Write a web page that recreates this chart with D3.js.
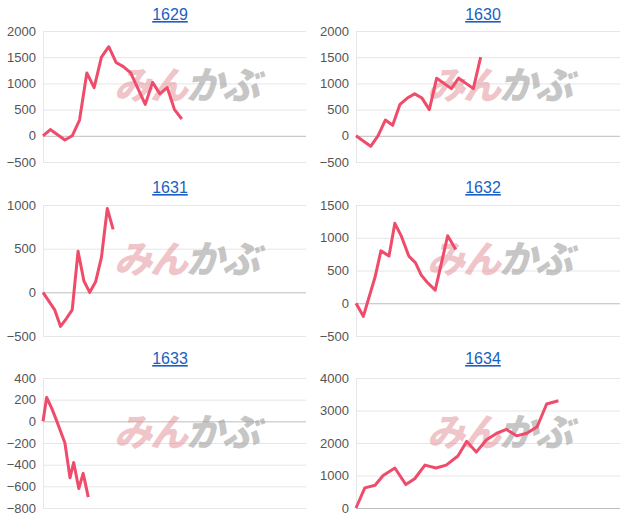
<!DOCTYPE html><html><head><meta charset="utf-8"><script src="https://cdn.jsdelivr.net/npm/d3@7"></script>
<style>body{margin:0;background:#fff}svg{display:block}</style></head><body><svg id="c" width="628" height="519"></svg>
<script>
const titles=["1629","1630","1631","1632","1633","1634"];
const x1629=[0,1,2,3,4,5,6,7,8,9,10,11,12,13,14,15,16,17,18,19];
const v1629=[0,120,20,-80,0,300,1200,920,1500,1700,1400,1320,1200,900,600,1020,800,920,500,320];
const x1630=[0,1,2,3,4,5,6,7,8,9,10,11,12,13,14,15,16,17];
const v1630=[0,-100,-200,0,300,200,600,720,800,720,500,1100,1000,900,1100,1000,900,1500];
const x1631=[0,0.8,1.6,2.4,3.2,4,4.8,5.6,6.4,7.2,8,8.8,9.6];
const v1631=[0,-100,-200,-390,-300,-200,470,130,0,120,400,960,720];
const x1632=[0,1,2.6,3.4,4.5,5.3,6.2,7.2,8.1,8.9,9.7,10.8,12.5,13.6];
const v1632=[0,-200,400,800,720,1220,1020,720,620,430,320,200,1030,820];
const x1633=[0,0.5,1.2,1.9,3,3.7,4.2,4.9,5.5,6.2];
const v1633=[0,220,120,0,-200,-520,-380,-620,-480,-700];
const x1634=[0,1.2,2.6,3.7,5.3,6.8,8,9.4,10.9,12.3,13.9,15.1,16.4,17.8,19.2,20.5,21.9,23.3,24.7,26,27.6];
const v1634=[0,620,700,1000,1230,720,900,1320,1230,1320,1600,2050,1720,2100,2300,2420,2220,2300,2500,3200,3300];
const yDomains=[[-500,2000],[-500,2000],[-500,1000],[-500,1500],[-800,400],[0,4000]];
const ySteps=[500,500,500,500,200,1000];
const xs=[x1629,x1630,x1631,x1632,x1633,x1634], vs=[v1629,v1630,v1631,v1632,v1633,v1634];
const svg=d3.select("#c");
const rows=[[31,162,14],[205,336,187],[378,508,358]];
const cols=[[43,306],[356,620]];
titles.forEach((t,i)=>{
  const r=rows[Math.floor(i/2)], c=cols[i%2];
  const g=svg.append("g");
  const x=d3.scaleLinear().domain([0,36]).range([c[0],c[1]]);
  const y=d3.scaleLinear().domain(yDomains[i]).range([r[1],r[0]]);
  const ticks=d3.range(yDomains[i][0],yDomains[i][1]+1,ySteps[i]);
  const ax=g.append("g").attr("transform",`translate(${c[0]},0)`).call(d3.axisLeft(y).tickValues(ticks).tickFormat(d3.format("d")).tickSize(-(c[1]-c[0])).tickPadding(7));
  ax.select(".domain").attr("stroke","#e6e6e6");
  ax.selectAll(".tick line").attr("stroke",d=>d===0?"#bdbdbd":"#e6e6e6");
  ax.selectAll(".tick text").attr("fill","#555").attr("font-size",13).attr("font-family","Liberation Sans, Arial, sans-serif");
  const wm=g.append("text").attr("x",c[0]+143).attr("y",r[0]+58).attr("text-anchor","middle")
    .attr("font-size",38).attr("font-weight","900").attr("font-style","italic").attr("font-family","Noto Sans CJK JP").attr("dominant-baseline","middle").attr("letter-spacing",-2);
  wm.append("tspan").attr("fill","rgba(225,140,150,0.5)").text("みん");
  wm.append("tspan").attr("fill","rgba(160,160,160,0.6)").text("かぶ");
  g.append("path").datum(vs[i].map((v,k)=>[xs[i][k],v])).attr("fill","none").attr("stroke","#ef4b6b").attr("stroke-width",3).attr("stroke-linejoin","round")
    .attr("d",d3.line().x(d=>x(d[0])).y(d=>y(d[1])));
  g.append("text").attr("x",c[0]+127).attr("y",r[2]+6).attr("text-anchor","middle").attr("fill","#1a5fc4").attr("font-size",16)
    .attr("text-decoration","underline").attr("font-family","Liberation Sans, Arial, sans-serif").text(t);
});
</script></body></html>
